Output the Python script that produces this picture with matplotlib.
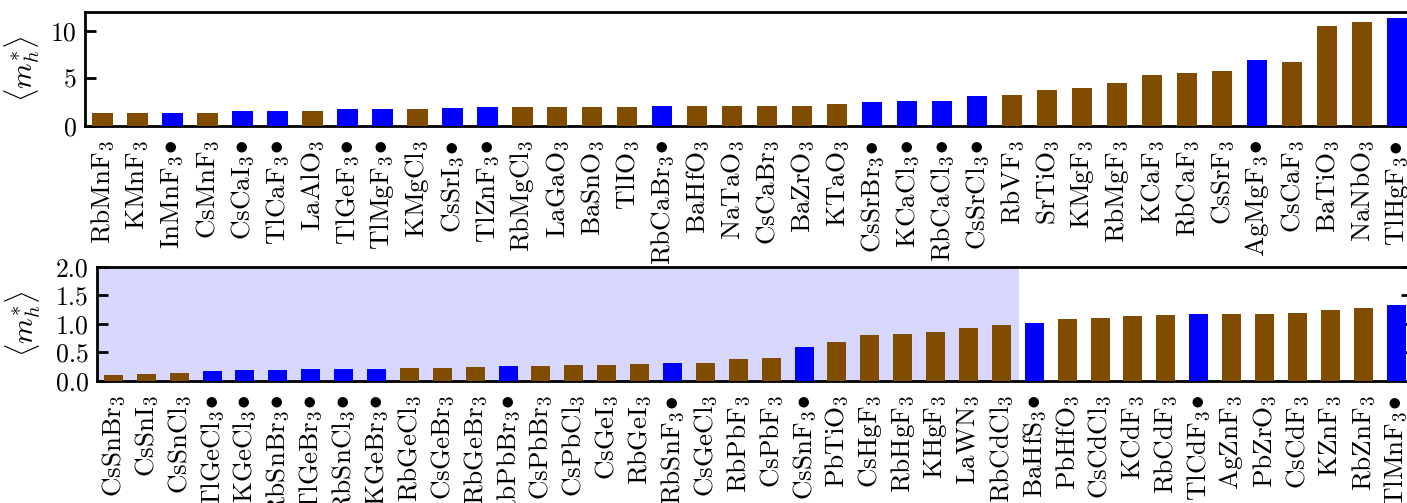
import numpy as np
import matplotlib
matplotlib.use("Agg")
import matplotlib.pyplot as plt

plt.rcParams["font.family"] = ["serif"]
plt.rcParams["font.serif"] = ["cmr10", "DejaVu Serif"]
plt.rcParams["mathtext.fontset"] = "cm"
plt.rcParams["axes.formatter.use_mathtext"] = True
plt.rcParams["axes.unicode_minus"] = False

# average hole effective mass, sorted ascending; flag = marked compound
top_formula = ["RbMnF", "KMnF", "InMnF", "CsMnF", "CsCaI", "TlCaF", "LaAlO", "TlGeF",
               "TlMgF", "KMgCl", "CsSrI", "TlZnF", "RbMgCl", "LaGaO", "BaSnO", "TlIO",
               "RbCaBr", "BaHfO", "NaTaO", "CsCaBr", "BaZrO", "KTaO", "CsSrBr", "KCaCl",
               "RbCaCl", "CsSrCl", "RbVF", "SrTiO", "KMgF", "RbMgF", "KCaF", "RbCaF",
               "CsSrF", "AgMgF", "CsCaF", "BaTiO", "NaNbO", "TlHgF"]
top_mass = [1.35, 1.35, 1.35, 1.35, 1.56, 1.56, 1.56, 1.77, 1.77, 1.77, 1.87, 1.98,
            1.98, 1.98, 1.98, 1.98, 2.08, 2.08, 2.08, 2.08, 2.08, 2.29, 2.50, 2.60,
            2.60, 3.12, 3.23, 3.75, 3.96, 4.48, 5.31, 5.52, 5.73, 6.88, 6.77, 10.52,
            10.94, 11.35]
top_flag = [0, 0, 1, 0, 1, 1, 0, 1, 1, 0, 1, 1, 0, 0, 0, 0, 1, 0, 0, 0, 0, 0, 1, 1,
            1, 1, 0, 0, 0, 0, 0, 0, 0, 1, 0, 0, 0, 1]

bot_formula = ["CsSnBr", "CsSnI", "CsSnCl", "TlGeCl", "KGeCl", "RbSnBr", "TlGeBr",
               "RbSnCl", "KGeBr", "RbGeCl", "CsGeBr", "RbGeBr", "RbPbBr", "CsPbBr",
               "CsPbCl", "CsGeI", "RbGeI", "RbSnF", "CsGeCl", "RbPbF", "CsPbF", "CsSnF",
               "PbTiO", "CsHgF", "RbHgF", "KHgF", "LaWN", "RbCdCl", "BaHfS", "PbHfO",
               "CsCdCl", "KCdF", "RbCdF", "TlCdF", "AgZnF", "PbZrO", "CsCdF", "KZnF",
               "RbZnF", "TlMnF"]
bot_mass = [0.105, 0.122, 0.14, 0.175, 0.19, 0.19, 0.21, 0.21, 0.21, 0.227, 0.227,
            0.245, 0.26, 0.26, 0.28, 0.28, 0.297, 0.315, 0.315, 0.385, 0.40, 0.595,
            0.68, 0.80, 0.82, 0.857, 0.927, 0.98, 1.015, 1.085, 1.10, 1.137, 1.155,
            1.17, 1.17, 1.17, 1.19, 1.24, 1.277, 1.33]
bot_flag = [0, 0, 0, 1, 1, 1, 1, 1, 1, 0, 0, 0, 1, 0, 0, 0, 0, 1, 0, 0, 0, 1, 0, 0,
            0, 0, 0, 0, 1, 0, 0, 0, 0, 1, 0, 0, 0, 0, 0, 1]

# light-mass window shaded in the lower panel
shade_end = 27.55

BROWN = "#7f4c00"
BLUE = "#0000ff"


def make_label(formula, flag):
    s = r"$\mathrm{%s}_3" % formula
    if flag:
        s += r"\!\bullet"
    return s + "$"


def draw_panel(ax, formula, mass, flag, ymax, yticks, yticklabels):
    x = np.arange(len(mass))
    colors = [BLUE if f else BROWN for f in flag]
    ax.bar(x, mass, width=0.58, color=colors, zorder=3)
    ax.set_xlim(-0.5, len(mass) - 0.5)
    ax.set_ylim(0, ymax)
    ax.set_xticks(x)
    ax.set_xticklabels([make_label(f, g) for f, g in zip(formula, flag)],
                       rotation=90, fontsize=19.5)
    ax.set_yticks(yticks)
    ax.set_yticklabels(yticklabels, fontsize=18.5)
    ax.tick_params(axis="x", length=0, pad=10)
    ax.tick_params(axis="y", direction="in", right=True, length=8, width=2, pad=6)
    for sp in ax.spines.values():
        sp.set_linewidth(2)
    ax.set_ylabel(r"$\langle m_h^{*} \rangle$", fontsize=21)


fig = plt.figure(figsize=(14.07, 5.03), dpi=100)
ax1 = fig.add_axes([0.0604, 0.7495, 0.945, 0.2272])
ax2 = fig.add_axes([0.0689, 0.2425, 0.935, 0.2272])

draw_panel(ax1, top_formula, top_mass, top_flag, 12, [0, 5, 10], ["0", "5", "10"])
draw_panel(ax2, bot_formula, bot_mass, bot_flag, 2.0, [0, 0.5, 1.0, 1.5, 2.0],
           ["0.0", "0.5", "1.0", "1.5", "2.0"])
ax2.axvspan(-0.5, shade_end, color="#d8d8ff", lw=0, zorder=1)

ax1.yaxis.set_label_coords(-0.032, 0.5)
ax2.yaxis.set_label_coords(-0.041, 0.5)

fig.savefig("out.png", dpi=100)
